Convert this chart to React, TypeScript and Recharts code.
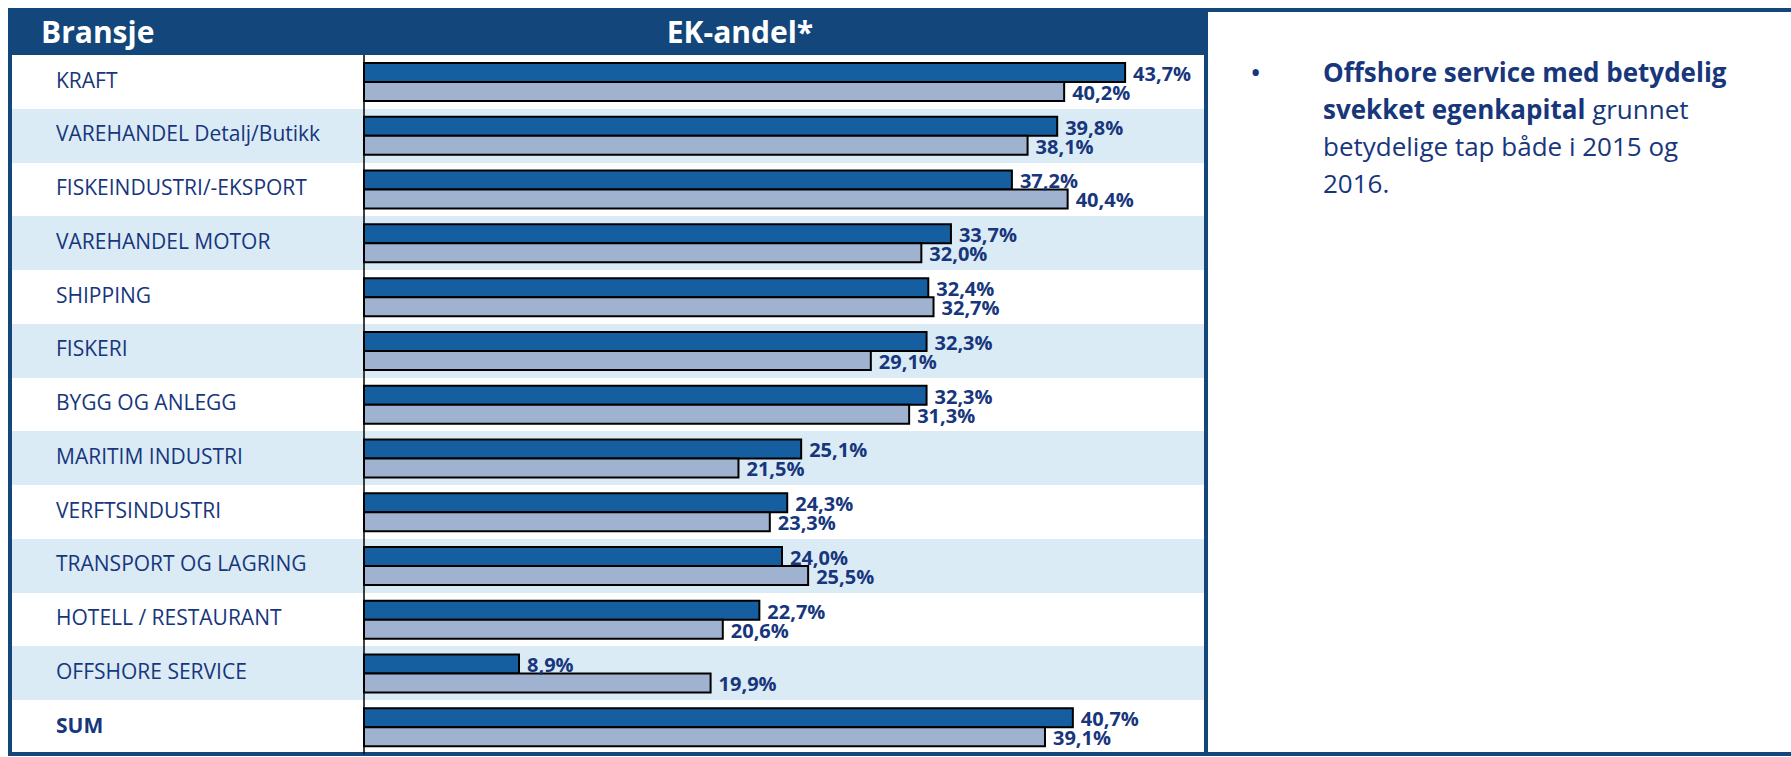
import React from "react";
import { BarChart, Bar, XAxis, YAxis, LabelList } from "recharts";

const CATEGORIES = [
  "KRAFT",
  "VAREHANDEL Detalj/Butikk",
  "FISKEINDUSTRI/-EKSPORT",
  "VAREHANDEL MOTOR",
  "SHIPPING",
  "FISKERI",
  "BYGG OG ANLEGG",
  "MARITIM INDUSTRI",
  "VERFTSINDUSTRI",
  "TRANSPORT OG LAGRING",
  "HOTELL / RESTAURANT",
  "OFFSHORE SERVICE",
  "SUM",
];

const EK_2016 = [43.7, 39.8, 37.2, 33.7, 32.4, 32.3, 32.3, 25.1, 24.3, 24.0, 22.7, 8.9, 40.7];
const EK_2015 = [40.2, 38.1, 40.4, 32.0, 32.7, 29.1, 31.3, 21.5, 23.3, 25.5, 20.6, 19.9, 39.1];

const DARK = "#13467a";
const NAVY = "#17367c";
const BAND = "#daebf6";
const FONT = "'Open Sans', 'Noto Sans', sans-serif";

const data = CATEGORIES.map((name, i) => ({ name, y2016: EK_2016[i], y2015: EK_2015[i] }));

const pct = (v: number) => `${v.toFixed(1).replace(".", ",")}%`;

const CHART_TOP = 55;
const CHART_H = 699;
const ROW_H = CHART_H / CATEGORIES.length;

const ValueLabel = (p: any) => {
  const { x, y, width, height, value } = p;
  return (
    <text
      x={x + width + 8}
      y={y + height / 2 + 3}
      dominantBaseline="middle"
      fontFamily={FONT}
      fontWeight={700}
      fontSize={20}
      fill={NAVY}
    >
      {pct(Number(value))}
    </text>
  );
};

const RowTick = (p: any) => {
  const { y, payload } = p;
  const sum = payload.value === "SUM";
  return (
    <text
      x={56}
      y={y}
      dominantBaseline="middle"
      fontFamily={FONT}
      fontSize={21}
      fontWeight={sum ? 700 : 400}
      fill={NAVY}
    >
      {payload.value}
    </text>
  );
};

export default function App() {
  return (
    <div style={{ position: "absolute", left: 0, top: 0, width: 1791, height: 757, background: "#fff", fontFamily: FONT }}>
      {/* row bands */}
      {CATEGORIES.map((c, i) => (
        <div
          key={c}
          style={{
            position: "absolute",
            left: 12,
            top: CHART_TOP + i * ROW_H,
            width: 1192,
            height: ROW_H,
            background: i % 2 === 1 ? BAND : "#fff",
          }}
        />
      ))}

      {/* header */}
      <div style={{ position: "absolute", left: 8, top: 8, width: 1200, height: 47, background: DARK }} />
      <div style={{ position: "absolute", left: 41, top: 8, height: 47, lineHeight: "47px", color: "#fff", fontWeight: 700, fontSize: 30 }}>
        Bransje
      </div>
      <div style={{ position: "absolute", left: 540, width: 400, textAlign: "center", top: 8, height: 47, lineHeight: "47px", color: "#fff", fontWeight: 700, fontSize: 30 }}>
        EK-andel*
      </div>

      {/* frame */}
      <div style={{ position: "absolute", left: 8, top: 8, width: 1783, height: 748, borderLeft: `4px solid ${DARK}`, borderTop: `4px solid ${DARK}`, borderBottom: `4px solid ${DARK}`, boxSizing: "border-box" }} />
      <div style={{ position: "absolute", left: 1204, top: 8, width: 4, height: 748, background: DARK }} />

      <div style={{ position: "absolute", left: 0, top: CHART_TOP }}>
        <BarChart
          width={1200}
          height={CHART_H}
          data={data}
          layout="vertical"
          margin={{ top: 0, right: 0, left: 0, bottom: 0 }}
          barCategoryGap="15%"
          barGap={0}
        >
          <XAxis type="number" domain={[0, 48]} hide />
          <YAxis
            type="category"
            dataKey="name"
            width={364}
            axisLine={{ stroke: "#000", strokeWidth: 1.5 }}
            tickLine={false}
            tick={<RowTick />}
            interval={0}
          />
          <Bar dataKey="y2016" name="2016" fill="#155fa0" stroke="#000" strokeWidth={2} isAnimationActive={false}>
            <LabelList dataKey="y2016" content={<ValueLabel />} />
          </Bar>
          <Bar dataKey="y2015" name="2015" fill="#9fb2d0" stroke="#000" strokeWidth={2} isAnimationActive={false}>
            <LabelList dataKey="y2015" content={<ValueLabel />} />
          </Bar>
        </BarChart>
      </div>

      {/* commentary */}
      <div style={{ position: "absolute", left: 1250, top: 53, fontSize: 30, lineHeight: "37px", color: NAVY }}>•</div>
      <div style={{ position: "absolute", left: 1323, top: 54, fontSize: 26, lineHeight: "37px", color: NAVY, whiteSpace: "nowrap" }}>
        <b>Offshore service med betydelig</b>
        <br />
        <b>svekket egenkapital</b> grunnet
        <br />
        betydelige tap både i 2015 og
        <br />
        2016.
      </div>
    </div>
  );
}
